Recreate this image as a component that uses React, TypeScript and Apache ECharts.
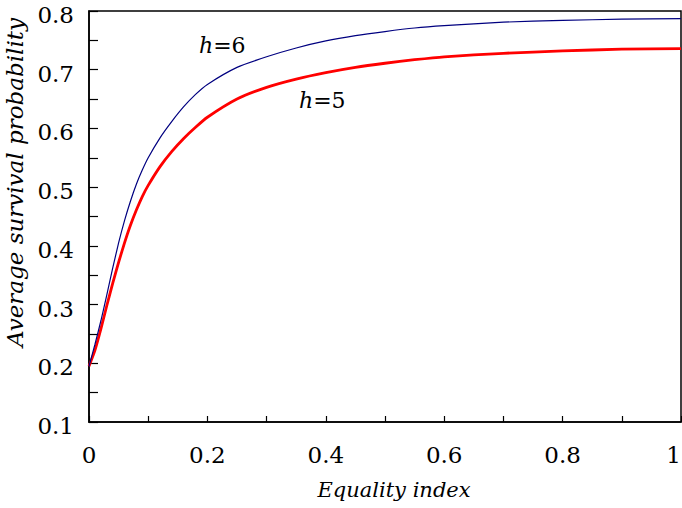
import React, { useEffect, useRef } from "react";
import * as echarts from "echarts";

const xsH6 = [0, 0.01, 0.02, 0.03, 0.04, 0.05, 0.06, 0.07, 0.08, 0.09, 0.1, 0.12, 0.14, 0.16, 0.18, 0.2, 0.25, 0.3, 0.35, 0.4, 0.45, 0.5, 0.55, 0.6, 0.7, 0.8, 0.9, 1.0];
const ysH6 = [0.195, 0.232, 0.272, 0.316, 0.362, 0.405, 0.443, 0.476, 0.505, 0.529, 0.55, 0.584, 0.612, 0.637, 0.658, 0.675, 0.704, 0.722, 0.737, 0.749, 0.758, 0.765, 0.771, 0.775, 0.781, 0.784, 0.786, 0.787];

const xsH5 = [0, 0.01, 0.02, 0.03, 0.04, 0.05, 0.06, 0.07, 0.08, 0.09, 0.1, 0.12, 0.14, 0.16, 0.18, 0.2, 0.25, 0.3, 0.35, 0.4, 0.45, 0.5, 0.55, 0.6, 0.7, 0.8, 0.9, 1.0];
const ysH5 = [0.195, 0.222, 0.258, 0.298, 0.336, 0.372, 0.405, 0.435, 0.461, 0.484, 0.503, 0.535, 0.561, 0.583, 0.602, 0.619, 0.65, 0.67, 0.684, 0.695, 0.704, 0.711, 0.717, 0.722, 0.728, 0.732, 0.735, 0.736];

const xAxisName = "Equality index";
const yAxisName = "Average survival probability";
const seriesLabels = ["h=6", "h=5"];

const FONT = "DejaVu Serif";

export default function App() {
  const ref = useRef<HTMLDivElement>(null);
  useEffect(() => {
    if (!ref.current) return;
    const chart = echarts.init(ref.current, null, { renderer: "svg" });
    const axisLine = { show: true, lineStyle: { color: "#000", width: 1.5 } };
    const labelText = (s: string, top: number, left: number) => ({
      type: "text",
      x: left,
      y: top,
      style: {
        text: "{i|h}{n|" + s.slice(1) + "}",
        fill: "#000",
        rich: {
          i: { fontStyle: "italic", fontFamily: FONT, fontSize: 22, fill: "#000" },
          n: { fontFamily: FONT, fontSize: 22, fill: "#000" },
        },
      },
    });
    chart.setOption({
      animation: false,
      backgroundColor: "#fff",
      textStyle: { fontFamily: FONT },
      grid: {
        left: 89,
        top: 11,
        right: 1,
        bottom: 86,
        show: true,
        borderColor: "#000",
        borderWidth: 1.5,
        backgroundColor: "transparent",
        containLabel: false,
        outerBoundsMode: "none",
      },
      xAxis: {
        type: "value",
        min: 0,
        max: 1,
        interval: 0.2,
        axisLine,
        splitLine: { show: false },
        axisTick: { show: true, inside: true, length: 6, lineStyle: { color: "#000", width: 1.2 } },
        minorTick: { show: true, splitNumber: 2, length: 6, lineStyle: { color: "#000", width: 1.2 } },
        axisLabel: { color: "#000", fontFamily: FONT, fontSize: 23, margin: 21, alignMaxLabel: "right" },
        name: xAxisName,
        nameLocation: "middle",
        nameGap: 57,
        nameTextStyle: { color: "#000", fontFamily: FONT, fontStyle: "italic", fontSize: 21, padding: [0, 0, 0, 18] },
      },
      yAxis: {
        type: "value",
        min: 0.1,
        max: 0.8,
        interval: 0.1,
        axisLine,
        splitLine: { show: false },
        axisTick: { show: true, inside: true, length: 9, lineStyle: { color: "#000", width: 1.2 } },
        minorTick: { show: true, splitNumber: 2, length: 9, lineStyle: { color: "#000", width: 1.2 } },
        axisLabel: { color: "#000", fontFamily: FONT, fontSize: 23, margin: 15, verticalAlign: "top", lineHeight: 8 },
        name: yAxisName,
        nameLocation: "middle",
        nameGap: 57,
        nameTextStyle: { color: "#000", fontFamily: FONT, fontStyle: "italic", fontSize: 23, padding: [0, 0, 0, 68] },
      },
      series: [
        {
          name: seriesLabels[0],
          type: "line",
          showSymbol: false,
          smooth: 0.2,
          data: xsH6.map((x, i) => [x, ysH6[i]]),
          lineStyle: { color: "#000080", width: 1.2 },
          z: 3,
        },
        {
          name: seriesLabels[1],
          type: "line",
          showSymbol: false,
          smooth: 0.2,
          data: xsH5.map((x, i) => [x, ysH5[i]]),
          lineStyle: { color: "#ff0000", width: 2.8 },
          z: 2,
        },
      ],
      graphic: [labelText(seriesLabels[0], 34, 199), labelText(seriesLabels[1], 89, 299)],
    });
    return () => chart.dispose();
  }, []);
  return <div ref={ref} style={{ position: "fixed", left: 0, top: 0, width: 682, height: 508 }} />;
}
